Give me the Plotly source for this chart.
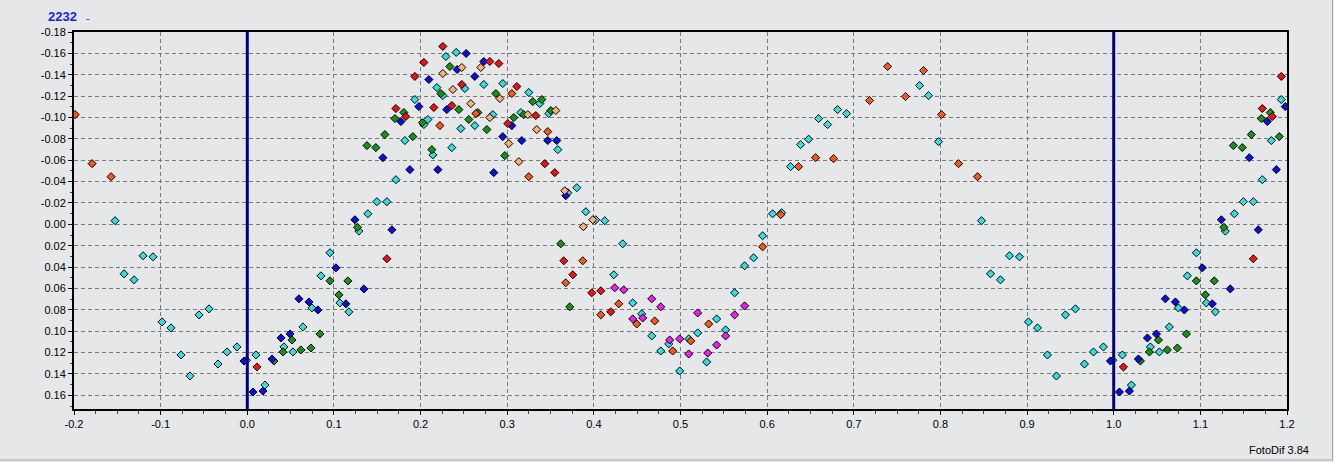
import plotly.graph_objects as go

# ---- data: phase / differential magnitude per observing set ----
cyan_phase = [0.1496, 0.1611, 0.1392, 0.1288, 0.0954, 0.0850, 0.1069, 0.1173, 0.0746, 0.0642,
              0.0423, 0.0527, 0.0100, 0.9990, 0.0204,
              0.2292, 0.2411, 0.2188, 0.2511, 0.2730, 0.2949, 0.2257, 0.3249, 0.1934, 0.2084,
              0.2038, 0.2465, 0.2626, 0.2834, 0.3157, 0.1819, 0.2142, 0.2361, 0.1715,
              0.3376, 0.3480, 0.3584, 0.3803, 0.3699, 0.3907, 0.4022, 0.4126, 0.4333, 0.4230,
              0.4449, 0.4552, 0.4668, 0.4864, 0.4772,
              0.5417, 0.5198, 0.5095, 0.5302, 0.4991, 0.5521, 0.5625, 0.5740, 0.5844, 0.5948,
              0.6063, 0.6167, 0.6271, 0.6386, 0.6479,
              0.6594, 0.6698, 0.6813, 0.6917, 0.7759, 0.7863, 0.7978,
              0.8474, 0.8797, 0.8912, 0.8578, 0.8693, 0.9016, 0.9120, 0.9443, 0.9558, 0.9235,
              0.9339, 0.9662, 0.9766, 0.9881]
cyan_mag = [-0.0212, -0.0212, -0.0099, 0.0063, 0.0266, 0.0482, 0.0735, 0.0819, 0.0782, 0.0960,
            0.1147, 0.1194, 0.1222, 0.1272, 0.1504,
            -0.1571, -0.1609, -0.1280, -0.1271, -0.1309, -0.1318, -0.1205, -0.1234, -0.1168, -0.0981,
            -0.0934, -0.0896, -0.0924, -0.1027, -0.1046, -0.0784, -0.0650, -0.0718, -0.0418,
            -0.1130, -0.1037, -0.0699, -0.0343, -0.0296, -0.0118, -0.0043, -0.0034, 0.0182, 0.0472,
            0.0735, 0.0838, 0.1044, 0.1119, 0.1185,
            0.0885, 0.1016, 0.1072, 0.1288, 0.1372, 0.0988, 0.0641, 0.0388, 0.0313, 0.0107,
            -0.0099, -0.0109, -0.0540, -0.0746, -0.0797,
            -0.0990, -0.0934, -0.1074, -0.1037, -0.1299, -0.1205, -0.0774,
            -0.0034, 0.0294, 0.0304, 0.0463, 0.0519, 0.0913, 0.0969, 0.0847, 0.0791, 0.1222,
            0.1419, 0.1307, 0.1194, 0.1147]

green_phase = [0.1588, 0.1381, 0.1484, 0.1272, 0.0954, 0.1161, 0.1058, 0.0839, 0.0516, 0.0412,
               0.0619, 0.0735, 0.0308,
               0.2338, 0.2234, 0.2869, 0.1807, 0.1704, 0.2442, 0.2661, 0.2557, 0.2022, 0.2765,
               0.3076, 0.3191, 0.1911, 0.2130, 0.2972,
               0.3295, 0.3399, 0.3503, 0.3618, 0.3722]
green_mag = [-0.0840, -0.0737, -0.0718, 0.0028, 0.0529, 0.0529, 0.0660, 0.1026, 0.1082, 0.1194,
             0.1175, 0.1157, 0.1279,
             -0.1477, -0.1224, -0.1224, -0.1046, -0.0990, -0.1074, -0.1046, -0.0981, -0.0952, -0.0887,
             -0.0999, -0.1027, -0.0821, -0.0699, -0.0643,
             -0.1149, -0.1168, -0.1065, 0.0182, 0.0772]

blue_phase = [0.1565, 0.1242, 0.1023, 0.1346, 0.1138, 0.0596, 0.0712, 0.0815, 0.0493, 0.0389,
              0.9962, 0.0285, 0.0066, 0.0181,
              0.2526, 0.2422, 0.2730, 0.2096, 0.2626, 0.1773, 0.1980, 0.2303, 0.3053, 0.2949,
              0.3168, 0.1877, 0.2200, 0.2845, 0.1669,
              0.3468, 0.3572, 0.3676]
blue_mag = [-0.0624, -0.0043, 0.0407, 0.0604, 0.0744, 0.0697, 0.0726, 0.0801, 0.1026, 0.1063,
            0.1279, 0.1260, 0.1569, 0.1560,
            -0.1599, -0.1449, -0.1524, -0.1355, -0.1384, -0.0962, -0.1102, -0.1074, -0.0924, -0.0821,
            -0.0784, -0.0512, -0.0512, -0.0484, 0.0051,
            -0.0784, -0.0784, -0.0268]

red_phase = [0.1611, 0.0112,
             0.2257, 0.2038, 0.2799, 0.2903, 0.1934, 0.2476, 0.3111, 0.1715, 0.1830, 0.2153,
             0.2361, 0.3007,
             0.3330, 0.3434, 0.3549, 0.3653, 0.3757, 0.3976, 0.4080, 0.4195]
red_mag = [0.0322, 0.1335,
           -0.1665, -0.1515, -0.1524, -0.1505, -0.1384, -0.1309, -0.1290, -0.1084, -0.1009, -0.1093,
           -0.1112, -0.0943,
           -0.1018, -0.0568, -0.0484, 0.0341, 0.0472, 0.0641, 0.0622, 0.0819]

orange_phase = [0.3053, 0.2638, 0.2223, 0.3249,
                0.3468, 0.3872, 0.3676, 0.4287, 0.4080, 0.4495, 0.4702,
                0.5325, 0.5118, 0.4910, 0.5948, 0.6156, 0.6363,
                0.6559, 0.6767, 0.7182, 0.7390, 0.7597, 0.7805, 0.8013, 0.8209, 0.8428]
orange_mag = [-0.1224, -0.1037, -0.0924, -0.0446,
              -0.0868, 0.0341, 0.0547, 0.0744, 0.0847, 0.0932, 0.0904,
              0.0932, 0.1091, 0.1185, 0.0210, -0.0090, -0.0540,
              -0.0624, -0.0615, -0.1159, -0.1477, -0.1196, -0.1440, -0.1027, -0.0568, -0.0446]

peach_phase = [0.2476, 0.2695, 0.2257, 0.2373, 0.2915, 0.2580, 0.2799, 0.3238, 0.3018, 0.3134,
               0.3561, 0.3341, 0.3664, 0.3987, 0.3879]
peach_mag = [-0.1468, -0.1468, -0.1412, -0.1262, -0.1177, -0.1130, -0.0999, -0.1027, -0.0756, -0.0587,
             -0.1065, -0.0887, -0.0315, -0.0043, 0.0022]

magenta_phase = [0.4241, 0.4345, 0.4668, 0.4772, 0.4449, 0.4564, 0.4875,
                 0.5198, 0.4991, 0.5095, 0.5314, 0.5417, 0.5521, 0.5625, 0.5740]
magenta_mag = [0.0594, 0.0613, 0.0697, 0.0772, 0.0885, 0.0876, 0.1082,
               0.0829, 0.1072, 0.1213, 0.1204, 0.1129, 0.1044, 0.0847, 0.0763]

x_ticks = [-0.2, -0.1, 0.0, 0.1, 0.2, 0.3, 0.4, 0.5, 0.6, 0.7, 0.8, 0.9, 1.0, 1.1, 1.2]
y_ticks = [-0.18, -0.16, -0.14, -0.12, -0.10, -0.08, -0.06, -0.04, -0.02, 0.00,
           0.02, 0.04, 0.06, 0.08, 0.10, 0.12, 0.14, 0.16]

series = [
    ("cyan", cyan_phase, cyan_mag, "#2ee0e0"),
    ("green", green_phase, green_mag, "#129612"),
    ("blue", blue_phase, blue_mag, "#0c0ce8"),
    ("red", red_phase, red_mag, "#f41010"),
    ("orange", orange_phase, orange_mag, "#ff5610"),
    ("peach", peach_phase, peach_mag, "#ffb070"),
    ("magenta", magenta_phase, magenta_mag, "#f21cf2"),
]


def fold(ph, mg):
    """Repeat the phased points outside [0,1] so the window -0.2..1.2 is filled."""
    xs, ys = [], []
    for p, m in zip(ph, mg):
        for shift in (-1.0, 0.0, 1.0):
            q = p + shift
            if -0.2 <= q <= 1.2:
                xs.append(q)
                ys.append(m)
    return xs, ys


fig = go.Figure()
for name, ph, mg, col in series:
    xs, ys = fold(ph, mg)
    fig.add_trace(go.Scatter(
        x=xs, y=ys, mode="markers", name=name, showlegend=False,
        marker=dict(symbol="diamond", size=6.2, color=col,
                    line=dict(color="black", width=1)),
        cliponaxis=True,
    ))

bg = "#e6e7e9"
fig.update_layout(
    width=1334, height=462,
    margin=dict(l=74, r=47, t=32, b=53),
    paper_bgcolor=bg, plot_bgcolor=bg,
    font=dict(family="Liberation Sans, Arial, sans-serif", size=11, color="black"),
    showlegend=False,
    shapes=[
        dict(type="line", xref="x", yref="paper", x0=0, x1=0, y0=0, y1=1,
             line=dict(color="#000080", width=3), layer="above"),
        dict(type="line", xref="x", yref="paper", x0=1, x1=1, y0=0, y1=1,
             line=dict(color="#000080", width=3), layer="above"),
        # panel border (bottom and right edge of the window)
        dict(type="line", xref="paper", yref="paper", x0=-0.07, x1=1.0375, y0=-0.1353, y1=-0.1353,
             line=dict(color="#a8a8a8", width=1)),
        dict(type="line", xref="paper", yref="paper", x0=1.0375, x1=1.0375, y0=-0.1353, y1=1.09,
             line=dict(color="#a8a8a8", width=1)),
    ],
    annotations=[
        dict(text="<b>2232</b>", xref="paper", yref="paper", x=-0.0232, y=1.0398,
             xanchor="left", yanchor="middle", showarrow=False,
             font=dict(size=13, color="#1a1aff", family="Liberation Sans, Arial, sans-serif")),
        dict(text="-", xref="paper", yref="paper", x=0.0085, y=1.037,
             xanchor="left", yanchor="middle", showarrow=False,
             font=dict(size=11, color="#1a1aff", family="Liberation Sans, Arial, sans-serif")),
        dict(text="FotoDif 3.84", xref="paper", yref="paper", x=1.0198, y=-0.108,
             xanchor="right", yanchor="middle", showarrow=False,
             font=dict(size=11, color="black", family="Liberation Sans, Arial, sans-serif")),
    ],
)

fig.update_xaxes(
    range=[-0.2, 1.2], tickvals=x_ticks, ticktext=[f"{v:.1f}" for v in x_ticks],
    ticks="outside", ticklen=4, tickcolor="black", tickwidth=1,
    showline=True, mirror=True, linecolor="black", linewidth=2,
    showgrid=True, gridcolor="#7a7a7a", gridwidth=1, griddash="4px,3px",
    zeroline=False,
    minor=dict(dtick=0.025, tick0=0, ticks="outside", ticklen=3, tickcolor="#444", showgrid=False),
)
fig.update_yaxes(
    range=[0.1728, -0.18], tickvals=y_ticks,
    ticktext=[("0.00" if abs(v) < 1e-9 else f"{v:.2f}") for v in y_ticks],
    ticks="outside", ticklen=4, tickcolor="black", tickwidth=1,
    showline=True, mirror=True, linecolor="black", linewidth=2,
    showgrid=True, gridcolor="#7a7a7a", gridwidth=1, griddash="4px,3px",
    zeroline=False,
    minor=dict(dtick=0.01, tick0=0, ticks="outside", ticklen=2, tickcolor="#444", showgrid=False),
)

fig.write_html(
    "out.html",
    config={"displayModeBar": False},
    post_script="document.body.style.margin='0';document.body.style.overflow='hidden';"
                "document.body.style.background='#e6e7e9';",
)
